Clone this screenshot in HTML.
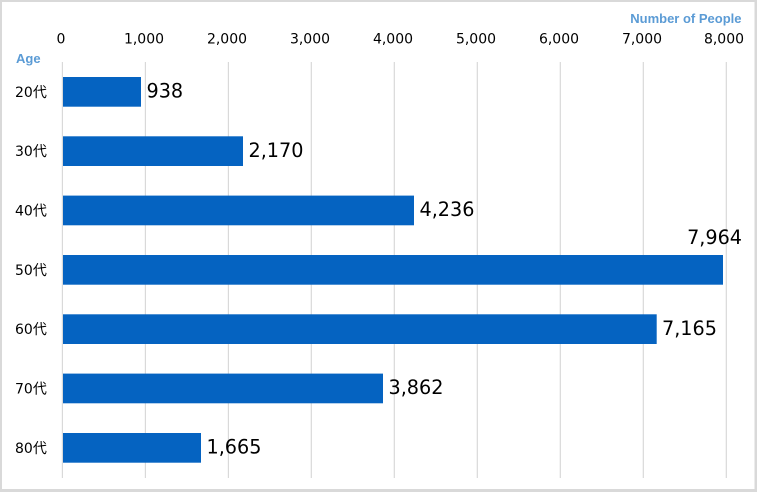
<!DOCTYPE html>
<html><head><meta charset="utf-8"><style>
html,body{margin:0;padding:0;background:#fff;}
svg{display:block;}
</style></head><body>
<svg width="757" height="492" viewBox="0 0 757 492" xmlns="http://www.w3.org/2000/svg">
<rect x="0" y="0" width="757" height="492" fill="#d9d9d9"/>
<rect x="2" y="2" width="752.5" height="487" fill="#ffffff"/>
<g stroke="#d9d9d9" stroke-width="1.2">
<line x1="62.4" y1="62" x2="62.4" y2="478"/>
<line x1="145.4" y1="62" x2="145.4" y2="478"/>
<line x1="228.4" y1="62" x2="228.4" y2="478"/>
<line x1="311.3" y1="62" x2="311.3" y2="478"/>
<line x1="394.3" y1="62" x2="394.3" y2="478"/>
<line x1="477.3" y1="62" x2="477.3" y2="478"/>
<line x1="560.3" y1="62" x2="560.3" y2="478"/>
<line x1="643.3" y1="62" x2="643.3" y2="478"/>
<line x1="726.3" y1="62" x2="726.3" y2="478"/>
</g>
<g font-family="DejaVu Sans, sans-serif" font-size="14" fill="#000" text-anchor="middle">
<text x="61" y="43.5">0</text>
<text x="144" y="43.5">1,000</text>
<text x="227" y="43.5">2,000</text>
<text x="310" y="43.5">3,000</text>
<text x="393" y="43.5">4,000</text>
<text x="476" y="43.5">5,000</text>
<text x="559" y="43.5">6,000</text>
<text x="642" y="43.5">7,000</text>
<text x="724" y="43.5">8,000</text>
</g>
<text x="741.5" y="23" font-family="Liberation Sans, sans-serif" font-weight="bold" font-size="13" fill="#5B9BD5" text-anchor="end">Number of People</text>
<text x="16" y="63" font-family="Liberation Sans, sans-serif" font-weight="bold" font-size="13" fill="#5B9BD5">Age</text>
<g fill="#0563C1">
<rect x="63" y="77" width="78" height="29.7"/>
<rect x="63" y="136.3" width="180" height="29.7"/>
<rect x="63" y="195.6" width="351" height="29.7"/>
<rect x="63" y="255" width="660" height="29.7"/>
<rect x="63" y="314.3" width="593.7" height="29.7"/>
<rect x="63" y="373.6" width="320" height="29.7"/>
<rect x="63" y="433" width="138" height="29.7"/>
</g>
<g font-family="DejaVu Sans, 'Noto Sans CJK JP', sans-serif" font-size="14" fill="#000">
<text x="15" y="96.8">20代</text>
<text x="15" y="156.1">30代</text>
<text x="15" y="215.4">40代</text>
<text x="15" y="274.8">50代</text>
<text x="15" y="334.1">60代</text>
<text x="15" y="393.4">70代</text>
<text x="15" y="452.8">80代</text>
</g>
<g font-family="DejaVu Sans, sans-serif" font-size="19.2" fill="#000">
<text x="146.5" y="97.6">938</text>
<text x="248.5" y="156.9">2,170</text>
<text x="419.5" y="216.2">4,236</text>
<text x="742" y="244.2" text-anchor="end">7,964</text>
<text x="662" y="334.9">7,165</text>
<text x="388.5" y="394.2">3,862</text>
<text x="206.5" y="453.6">1,665</text>
</g>
</svg>
</body></html>
